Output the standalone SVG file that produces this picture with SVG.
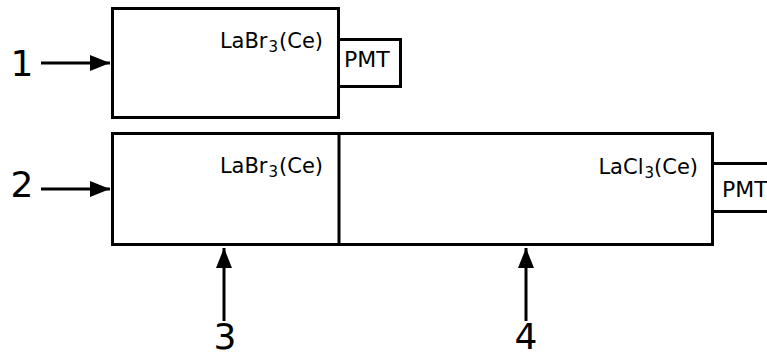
<svg xmlns="http://www.w3.org/2000/svg" width="767" height="353" viewBox="0 0 767 353">
  <style>
    .box { fill: #fff; stroke: #000; stroke-width: 3; }
    .wire { stroke: #000; stroke-width: 3; fill: none; }
    .lbl { font-family: "DejaVu Sans", sans-serif; font-size: 21px; fill: #000; }
    .pmt { font-family: "DejaVu Sans", sans-serif; font-size: 22px; fill: #000; }
    .num { font-family: "DejaVu Sans", sans-serif; font-size: 36px; fill: #000; }
    .sub { font-size: 15px; }
  </style>
  <defs>
    <marker id="arr" viewBox="0 0 20 16" refX="20" refY="8" markerWidth="20" markerHeight="16" markerUnits="userSpaceOnUse" orient="auto">
      <path d="M0,0 L20,8 L0,16 Z" fill="#000"/>
    </marker>
  </defs>
  <rect width="767" height="353" fill="#fff"/>

  <!-- detector 1: single LaBr3 crystal with PMT -->
  <g id="det1">
    <rect class="box" x="112.5" y="8.5" width="226" height="109"/>
    <rect class="box" x="338.5" y="39.5" width="62" height="47"/>
    <text class="lbl" x="323" y="48" text-anchor="end">LaBr<tspan class="sub" dx="1" dy="4">3</tspan><tspan dx="1" dy="-4">(Ce)</tspan></text>
    <text class="pmt" x="344" y="67">PMT</text>
  </g>

  <!-- detector 2: LaBr3 / LaCl3 phoswich with PMT -->
  <g id="det2">
    <rect class="box" x="112.5" y="133.5" width="600" height="111"/>
    <line class="wire" x1="339" y1="133.5" x2="339" y2="244.5"/>
    <rect class="box" x="712.5" y="163.5" width="70" height="48"/>
    <text class="lbl" x="323" y="173" text-anchor="end">LaBr<tspan class="sub" dx="1" dy="4">3</tspan><tspan dx="1" dy="-4">(Ce)</tspan></text>
    <text class="lbl" x="698" y="174" text-anchor="end">LaCl<tspan class="sub" dx="1" dy="4">3</tspan><tspan dx="0" dy="-4">(Ce)</tspan></text>
    <text class="pmt" x="722" y="197">PMT</text>
  </g>

  <!-- numbered irradiation directions -->
  <g id="labels">
    <text class="num" x="22" y="76" text-anchor="middle">1</text>
    <text class="num" x="22" y="197" text-anchor="middle">2</text>
    <text class="num" x="225" y="349" text-anchor="middle">3</text>
    <text class="num" x="526" y="349" text-anchor="middle">4</text>
  </g>

  <g id="connectors">
    <line class="wire" x1="41" y1="63" x2="110" y2="63" marker-end="url(#arr)"/>
    <line class="wire" x1="41" y1="189" x2="110" y2="189" marker-end="url(#arr)"/>
    <line class="wire" x1="224" y1="321" x2="224" y2="248" marker-end="url(#arr)"/>
    <line class="wire" x1="526" y1="321" x2="526" y2="248" marker-end="url(#arr)"/>
  </g>
</svg>
